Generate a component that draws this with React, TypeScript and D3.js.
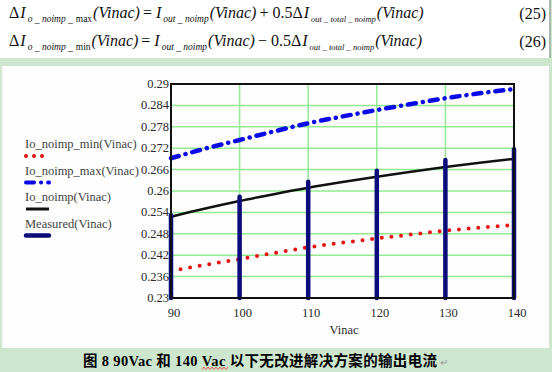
import React from "react";
import * as d3 from "d3";

// values
const vinac = [90, 95, 100, 105, 110, 115, 120, 125, 130, 135, 140];
const ioNoimp = [0.2528, 0.2551, 0.2572, 0.2591, 0.2609, 0.2625, 0.264, 0.2654, 0.2667, 0.2679, 0.269];
const ioNoimpMax = [0.2692, 0.2719, 0.2743, 0.2767, 0.279, 0.2809, 0.2827, 0.2844, 0.286, 0.2874, 0.2886];
const ioNoimpMin = [0.2376, 0.2393, 0.2409, 0.2426, 0.2442, 0.2455, 0.2467, 0.2478, 0.2489, 0.2497, 0.2505];
const measuredVinac = [90, 100, 110, 120, 130, 140];
const measured = [0.2532, 0.2584, 0.2626, 0.2657, 0.2687, 0.2717];

const yTicks = [0.23, 0.236, 0.242, 0.248, 0.254, 0.26, 0.266, 0.272, 0.278, 0.284, 0.29];
const xTicks = [90, 100, 110, 120, 130, 140];

const legendItems = [
  { label: "Io_noimp_min(Vinac)", color: "#e81414", width: 4, dash: "0 8", cap: "round" },
  { label: "Io_noimp_max(Vinac)", color: "#0a0ae8", width: 4, dash: "8 7 0.1 7", cap: "round" },
  { label: "Io_noimp(Vinac)", color: "#111", width: 3, dash: null, cap: "butt" },
  { label: "Measured(Vinac)", color: "#0b0b7a", width: 4.5, dash: null, cap: "round" },
];

const GREEN = "#cde7cf";
const SERIF = "Liberation Serif";

// one equation line
const EqText = ({ y, tail, sign }: { y: number; tail: string; sign: string }) => {
  const sub = { fontSize: 9.5, fontStyle: "italic" } as const;
  return (
    <text x={9} y={y} fill="#111" fontFamily={SERIF} fontSize={16}>
      <tspan>Δ</tspan>
      <tspan dx={1} fontStyle="italic">I</tspan>
      <tspan dx={2} dy={4} {...sub}>o _ noimp _</tspan>
      <tspan dx={3} fontSize={9.5}>{tail}</tspan>
      <tspan dx={1} dy={-4} fontStyle="italic">(Vinac)</tspan>
      <tspan dx={3}>=</tspan>
      <tspan dx={4} fontStyle="italic">I</tspan>
      <tspan dx={2} dy={4} {...sub}>out _ noimp</tspan>
      <tspan dx={1} dy={-4} fontStyle="italic">(Vinac)</tspan>
      <tspan dx={3}>{`${sign} 0.5Δ`}</tspan>
      <tspan dx={1} fontStyle="italic">I</tspan>
      <tspan dx={2} dy={4} fontSize={8.5} fontStyle="italic">out _ total _ noimp</tspan>
      <tspan dx={1} dy={-4} fontStyle="italic">(Vinac)</tspan>
    </text>
  );
};

const App = () => {
  const x = d3.scaleLinear().domain([90, 140]).range([171, 514]);
  const y = d3.scaleLinear().domain([0.23, 0.29]).range([298, 84]);

  const makeLine = (vals: number[]) =>
    d3
      .line<number>()
      .x((d, i) => x(vinac[i]))
      .y(d => y(d))
      .curve(d3.curveMonotoneX)(vals) as string;

  // wavy spell-check underline under the second "Vac"
  const wave = d3.range(0, 14).map(i => [202 + i * 2, i % 2 ? 367 : 369.5] as [number, number]);

  return (
    <svg width={552} height={372} style={{ position: "absolute", left: 0, top: 0 }}>
      <rect width={552} height={372} fill={GREEN} />
      {/* equation panel */}
      <rect x={0} y={0} width={549} height={58} fill="#fff" />
      <line x1={550} x2={550} y1={0} y2={58} stroke="#888" strokeWidth={1} />

      <EqText y={18} tail="max" sign="+" />
      <EqText y={46} tail="min" sign="−" />
      <g fill="#111" fontFamily={SERIF} fontSize={16}>
        <text x={546} y={19} textAnchor="end">(25)</text>
        <text x={546} y={47} textAnchor="end">(26)</text>
      </g>

      {/* chart panel */}
      <rect x={2} y={66} width={547} height={282} fill="#fdfefd" />
      <line x1={2} x2={2} y1={66} y2={348} stroke="#e4e8e4" />

      {/* grid */}
      <g stroke="#93ea93" strokeWidth={1.5}>
        {yTicks.slice(1, -1).map(t => (
          <line key={t} x1={x(90)} x2={x(140)} y1={y(t)} y2={y(t)} />
        ))}
        {xTicks.slice(1, -1).map(t => (
          <line key={t} x1={x(t)} x2={x(t)} y1={y(0.23)} y2={y(0.29)} />
        ))}
      </g>

      {/* tick labels */}
      <g fill="#2a2a2a" fontSize={12.5} fontFamily={SERIF}>
        {yTicks.map(t => (
          <text key={t} x={169} y={y(t) + 4} textAnchor="end">
            {d3.format("")(+t.toFixed(3))}
          </text>
        ))}
        {xTicks.map(t => (
          <text key={t} x={x(t) + 3} y={317} textAnchor="middle">
            {t}
          </text>
        ))}
        <text x={344} y={334} textAnchor="middle">Vinac</text>
      </g>

      {/* series */}
      <path d={makeLine(ioNoimpMin)} fill="none" stroke="#e81414" strokeWidth={4}
        strokeDasharray="0 9.7" strokeLinecap="round" />
      <path d={makeLine(ioNoimpMax)} fill="none" stroke="#0a0ae8" strokeWidth={4.5}
        strokeDasharray="8 7 0.1 7" strokeLinecap="round" />
      <path d={makeLine(ioNoimp)} fill="none" stroke="#111" strokeWidth={2.5} />
      <g stroke="#0b0b7a" strokeWidth={4.5} strokeLinecap="round">
        {measured.map((v, i) => (
          <line key={i} x1={x(measuredVinac[i])} x2={x(measuredVinac[i])} y1={y(0.23)} y2={y(v)} />
        ))}
      </g>

      {/* plot frame */}
      <rect x={x(90)} y={y(0.29)} width={x(140) - x(90)} height={y(0.23) - y(0.29)}
        fill="none" stroke="#111" strokeWidth={2} />

      {/* legend */}
      <g fontSize={12.5} fill="#444" fontFamily={SERIF}>
        {legendItems.map((it, i) => {
          const ty = 148 + i * 26.5;
          return (
            <g key={it.label}>
              <text x={25} y={ty}>{it.label}</text>
              <line x1={26} x2={it.dash === "0 8" ? 44 : 49} y1={ty + 8} y2={ty + 8}
                stroke={it.color} strokeWidth={it.width}
                strokeDasharray={it.dash || undefined}
                strokeLinecap={it.cap as any} />
            </g>
          );
        })}
      </g>

      {/* caption */}
      <text x={83} y={366} fontSize={14.5} fontWeight="bold" fill="#000"
        fontFamily="Liberation Serif, Noto Sans CJK SC"
        textLength={354} lengthAdjust="spacing">
        图 8 90Vac 和 140 Vac 以下无改进解决方案的输出电流
      </text>
      <text x={440} y={366} fontSize={10} fill="#999" fontFamily={SERIF}>↵</text>
      <path d={d3.line()(wave) as string} fill="none" stroke="#e33" strokeWidth={0.8} />
    </svg>
  );
};

export default App;
